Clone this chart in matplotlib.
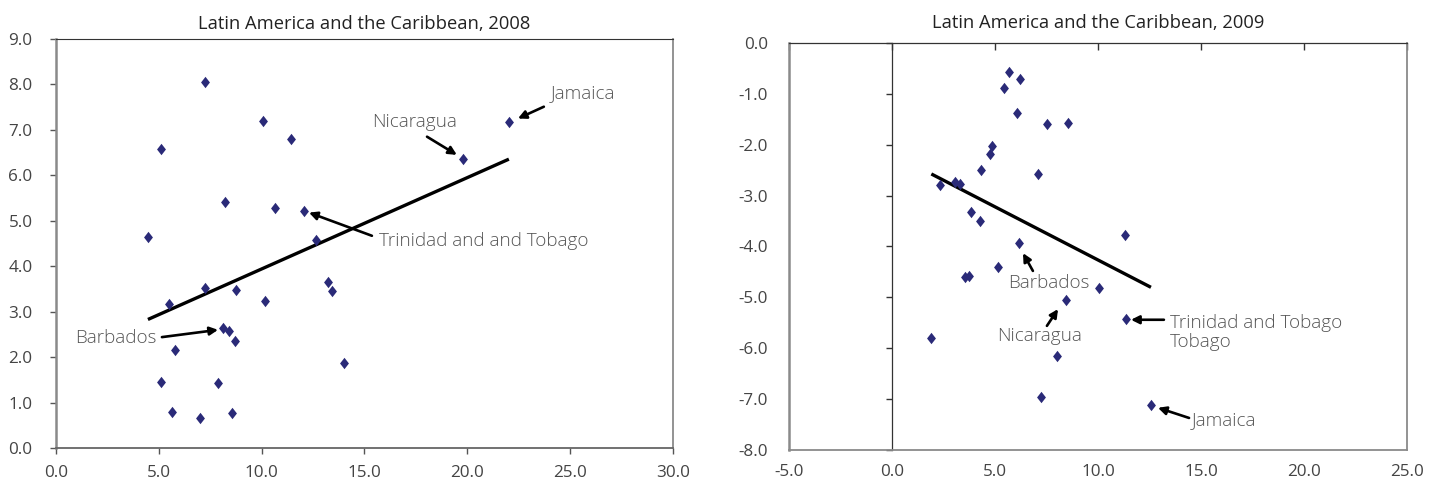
import numpy as np
import matplotlib
matplotlib.use("Agg")
import matplotlib.pyplot as plt

plt.rcParams['font.family'] = ['Open Sans', 'DejaVu Sans']

# ---------------- data ----------------
title_2008 = "Latin America and the Caribbean, 2008"
title_2009 = "Latin America and the Caribbean, 2009"

x_2008 = [7.24, 5.10, 10.06, 11.41, 8.22, 10.65, 12.04, 4.47, 12.62, 7.26, 8.75, 5.49,
          10.16, 13.24, 13.42, 8.12, 8.41, 8.72, 5.77, 14.00, 5.10, 7.86, 5.65, 7.00,
          8.56, 22.02, 19.80]
y_2008 = [8.05, 6.57, 7.20, 6.79, 5.42, 5.29, 5.21, 4.65, 4.58, 3.53, 3.48, 3.16,
          3.23, 3.65, 3.45, 2.65, 2.58, 2.36, 2.15, 1.88, 1.45, 1.42, 0.80, 0.66,
          0.76, 7.17, 6.36]
trend_2008 = (0.201, 1.93)  # slope, intercept

x_2009 = [5.66, 6.21, 5.45, 6.08, 7.52, 8.56, 4.84, 4.76, 4.34, 7.10, 2.35, 3.07,
          3.28, 3.83, 4.29, 6.15, 11.33, 5.15, 3.56, 3.72, 8.45, 1.91, 8.01, 7.23,
          10.06, 11.34, 12.57]
y_2009 = [-0.57, -0.70, -0.89, -1.37, -1.60, -1.57, -2.02, -2.18, -2.50, -2.57, -2.79, -2.74,
          -2.78, -3.32, -3.50, -3.94, -3.77, -4.41, -4.59, -4.58, -5.05, -5.80, -6.16, -6.95,
          -4.81, -5.42, -7.12]
trend_2009 = (-0.209, -2.175)

xticks_2008 = [0, 5, 10, 15, 20, 25, 30]
yticks_2008 = [0, 1, 2, 3, 4, 5, 6, 7, 8, 9]
xticks_2009 = [-5, 0, 5, 10, 15, 20, 25]
yticks_2009 = [0, -1, -2, -3, -4, -5, -6, -7, -8]

# annotations: label, text pos, arrow tail, arrow head, ha
ann_2008 = [
    ("Jamaica", (24.06, 7.80), (23.72, 7.51), (22.46, 7.25), 'left'),
    ("Nicaragua", (15.36, 7.18), (18.04, 6.85), (19.49, 6.45), 'left'),
    ("Trinidad and and Tobago", (15.70, 4.56), (15.36, 4.67), (12.30, 5.18), 'left'),
    ("Barbados", (4.91, 2.42), (5.15, 2.44), (7.88, 2.60), 'right'),
]
ann_2009 = [
    ("Barbados", (5.63, -4.72), (6.84, -4.48), (6.36, -4.13), 'left'),
    ("Nicaragua", (5.10, -5.76), (7.52, -5.56), (8.06, -5.23), 'left'),
    ("Trinidad and Tobago\nTobago", (13.50, -5.69), (13.20, -5.44), (11.60, -5.44), 'left'),
    ("Jamaica", (14.56, -7.41), (14.42, -7.37), (12.91, -7.17), 'left'),
]

# ---------------- style ----------------
W, H = 1442, 483
fig = plt.figure(figsize=(W / 100, H / 100), dpi=100)
marker_color = '#2a2a78'
tick_color = '#444444'
ann_color = '#555555'
tick_fs = 12.3
title_fs = 13.2
ann_fs = 13.6
diamond = [(0, 1), (0.78, 0), (0, -1), (-0.78, 0), (0, 1)]


def fmt(v):
    return f"{v:.1f}"


def scatter_and_trend(ax, xs, ys, trend, ann):
    ax.plot(xs, ys, linestyle='none', marker=diamond, markersize=8.2,
            markeredgewidth=0, color=marker_color, zorder=4)
    slope, intercept = trend
    tx = np.array([min(xs), max(xs)])
    ax.plot(tx, slope * tx + intercept, color='black', lw=2.4, zorder=3,
            solid_capstyle='butt')
    for label, tp, tail, head, ha in ann:
        ax.text(tp[0], tp[1], label, ha=ha, va='center', fontsize=ann_fs,
                color=ann_color, fontweight='light', linespacing=1.1)
        ax.annotate('', xy=head, xytext=tail,
                    arrowprops=dict(arrowstyle='-|>', color='black', lw=1.9,
                                    mutation_scale=12, shrinkA=0, shrinkB=0),
                    zorder=5)


# ---------------- left panel ----------------
ax1 = fig.add_axes([56 / W, 1 - 448 / H, (673 - 56) / W, (448 - 39) / H])
scatter_and_trend(ax1, x_2008, y_2008, trend_2008, ann_2008)
ax1.set_xlim(xticks_2008[0], xticks_2008[-1])
ax1.set_ylim(min(yticks_2008), max(yticks_2008))
ax1.set_xticks(xticks_2008)
ax1.set_xticklabels([fmt(v) for v in xticks_2008])
ax1.set_yticks(yticks_2008)
ax1.set_yticklabels([fmt(v) for v in yticks_2008])
ax1.tick_params(axis='y', direction='out', length=4, width=1, color='#555555',
                pad=13, labelsize=tick_fs, labelcolor=tick_color)
ax1.tick_params(axis='x', direction='out', length=4, width=1, color='#555555',
                pad=8, labelsize=tick_fs, labelcolor=tick_color)
ax1.spines['left'].set_color('#8a8a8a')
ax1.spines['left'].set_linewidth(1.8)
ax1.spines['bottom'].set_color('#666666')
ax1.spines['bottom'].set_linewidth(1.3)
ax1.spines['top'].set_color('#333333')
ax1.spines['top'].set_linewidth(0.8)
ax1.spines['right'].set_color('#8a8a8a')
ax1.spines['right'].set_linewidth(1.3)
ax1.set_title(title_2008, fontsize=title_fs, color='#222222', pad=7)

# ---------------- right panel ----------------
ax2 = fig.add_axes([789 / W, 1 - 450 / H, (1407 - 789) / W, (450 - 43) / H])
scatter_and_trend(ax2, x_2009, y_2009, trend_2009, ann_2009)
ax2.set_xlim(xticks_2009[0], xticks_2009[-1])
ax2.set_ylim(min(yticks_2009), max(yticks_2009))
ax2.set_xticks(xticks_2009)
ax2.set_xticklabels([fmt(v) for v in xticks_2009])
ax2.set_yticks(yticks_2009)
ax2.set_yticklabels([fmt(v) for v in yticks_2009])
ax2.tick_params(axis='y', length=0, pad=15, labelsize=tick_fs, labelcolor=tick_color)
ax2.tick_params(axis='x', top=True, bottom=False, direction='in', length=5, width=1,
                color='#333333', pad=10, labelsize=tick_fs, labelcolor=tick_color)
for s in ('left', 'bottom', 'right'):
    ax2.spines[s].set_color('#8a8a8a')
    ax2.spines[s].set_linewidth(1.8 if s == 'left' else 1.3)
ax2.spines['top'].set_color('#333333')
ax2.spines['top'].set_linewidth(0.9)
x0_frac = (0 - xticks_2009[0]) / (xticks_2009[-1] - xticks_2009[0])
sec = ax2.secondary_yaxis(x0_frac)
sec.set_yticks(yticks_2009)
sec.tick_params(axis='y', direction='out', length=4, width=1, color='#333333',
                labelleft=False, labelright=False)
sec.spines['left'].set_color('#333333')
sec.spines['left'].set_linewidth(0.9)
ax2.set_title(title_2009, fontsize=title_fs, color='#222222', pad=11)

fig.savefig('out.png', dpi=100)
